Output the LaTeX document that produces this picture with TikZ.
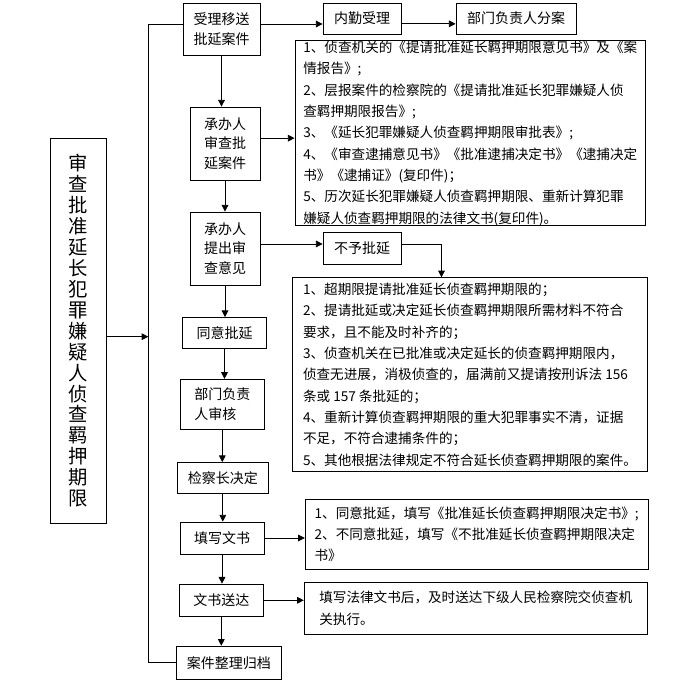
\documentclass[tikz,border=0pt]{standalone}
\usepackage{fontspec}
\setmainfont{Noto Sans CJK SC}
\usepackage{tikz}
\usetikzlibrary{arrows.meta, calc}
\tikzset{>={Triangle[length=5pt,width=5pt]}}

\begin{document}
\begin{tikzpicture}[x=0.75pt, y=-0.75pt, line width=.6pt,
    box/.style 2 args={draw, inner sep=0pt, align=left,
        minimum width=#1*0.75pt, minimum height=#2*0.75pt,
        font=\fontsize{10.5}{14.6}\selectfont},
    doc/.style 2 args={box={#1}{#2}, font=\fontsize{10.2}{16}\selectfont}]
            \path[fill=white, use as bounding box] (0,0) rectangle (700,682);

            % title on the left
            \node[box={56.7}{385}, align=center, font=\fontsize{14.5}{15.7}\selectfont] (T) at (78.3,330.8)
                {审\\查\\批\\准\\延\\长\\犯\\罪\\嫌\\疑\\人\\侦\\查\\羁\\押\\期\\限};

            % main column
            \node[box={77}{52}] (M1) at (221.5,29) {受理移送\\批延案件};
            \node[box={70}{73}] (M2) at (225,143.5) {承办人\\审查批\\延案件};
            \node[box={70}{73}] (M3) at (225,248.5) {承办人\\提出审\\查意见};
            \node[box={84}{31}] (M4) at (224.5,333) {同意批延};
            \node[box={84}{50}] (M5) at (222.3,404.3) {部门负责\\人审核};
            \node[box={91}{31}] (M6) at (222.8,478) {检察长决定};
            \node[box={84}{32}] (M7) at (222,538) {填写文书};
            \node[box={84}{32.5}] (M8) at (221.3,600.3) {文书送达};
            \node[box={105.7}{33}] (M9) at (228.8,662.7) {案件整理归档};

            % side boxes
            \node[box={78}{31}] (R1) at (362,18.5) {内勤受理};
            \node[box={120}{31}] (R2) at (516,18.5) {部门负责人分案};
            \node[box={78}{32}] (R3) at (362,248) {不予批延};

            \node[doc={350.7}{178.7}] (D1) at (470.3,133.3)
                {1、侦查机关的《提请批准延长羁押期限意见书》及《案\\
                 情报告》;\\
                 2、层报案件的检察院的《提请批准延长犯罪嫌疑人侦\\
                 查羁押期限报告》;\\
                 3、《延长犯罪嫌疑人侦查羁押期限审批表》;\\
                 4、《审查逮捕意见书》《批准逮捕决定书》《逮捕决定\\
                 书》《逮捕证》(复印件)；\\
                 5、历次延长犯罪嫌疑人侦查羁押期限、重新计算犯罪\\
                 嫌疑人侦查羁押期限的法律文书(复印件)。};
            \node[doc={355.4}{194}] (D2) at (470,374.7)
                {1、超期限提请批准延长侦查羁押期限的；\\
                 2、提请批延或决定延长侦查羁押期限所需材料不符合\\
                 要求，且不能及时补齐的；\\
                 3、侦查机关在已批准或决定延长的侦查羁押期限内，\\
                 侦查无进展，消极侦查的，届满前又提请按刑诉法 156\\
                 条或 157 条批延的；\\
                 4、重新计算侦查羁押期限的重大犯罪事实不清，证据\\
                 不足，不符合逮捕条件的；\\
                 5、其他根据法律规定不符合延长侦查羁押期限的案件。};
            \node[doc={343}{70}] (D3) at (476.7,534.3)
                {1、同意批延，填写《批准延长侦查羁押期限决定书》;\\
                 2、不同意批延，填写《不批准延长侦查羁押期限决定\\
                 书》};
            \node[doc={343}{52}] (D4) at (475.7,608.3)
                {填写法律文书后，及时送达下级人民检察院交侦查机\\
                 关执行。};

            % downward flow
            \draw [->] (M1.south)--(M1.south |- M2.north);
            \draw [->] (M2.south)--(M2.south |- M3.north);
            \draw [->] (M3.south)--(M3.south |- M4.north);
            \draw [->] (M4.south)--(M4.south |- M5.north);
            \draw [->] (M5.south)--(M5.south |- M6.north);
            \draw [->] (M6.south)--(M6.south |- M7.north);
            \draw [->] (M7.south)--(M7.south |- M8.north);
            \draw [->] (M8.south)--(M8.south |- M9.north);

            % to the right
            \draw [->] ([yshift=3.75pt]M1.east)--([yshift=3.75pt]M1.east -| R1.west);
            \draw [->] ([yshift=-4pt]R1.east)--([yshift=-4pt]R2.west);
            \draw [->] ([yshift=4pt]M2.east)--([yshift=4pt]M2.east -| D1.west);
            \draw [->] ([yshift=3.4pt]M3.east)--([yshift=3.4pt]M3.east -| R3.west);
            \draw [->] ([yshift=3pt]R3.east) -| ($(D2.north west)!.42!(D2.north east)$);
            \draw [->] (M7.east)--(M7.east -| D3.west);
            \draw [->] (M8.east)--(M8.east -| D4.west);

            % left bracket
            \coordinate (bar) at (148.3,336.7);
            \draw [->] (T.east |- bar)--(bar);
            \draw ([yshift=3.75pt]M1.west) -| (bar) |- (M9.west);
\end{tikzpicture}
\end{document}
